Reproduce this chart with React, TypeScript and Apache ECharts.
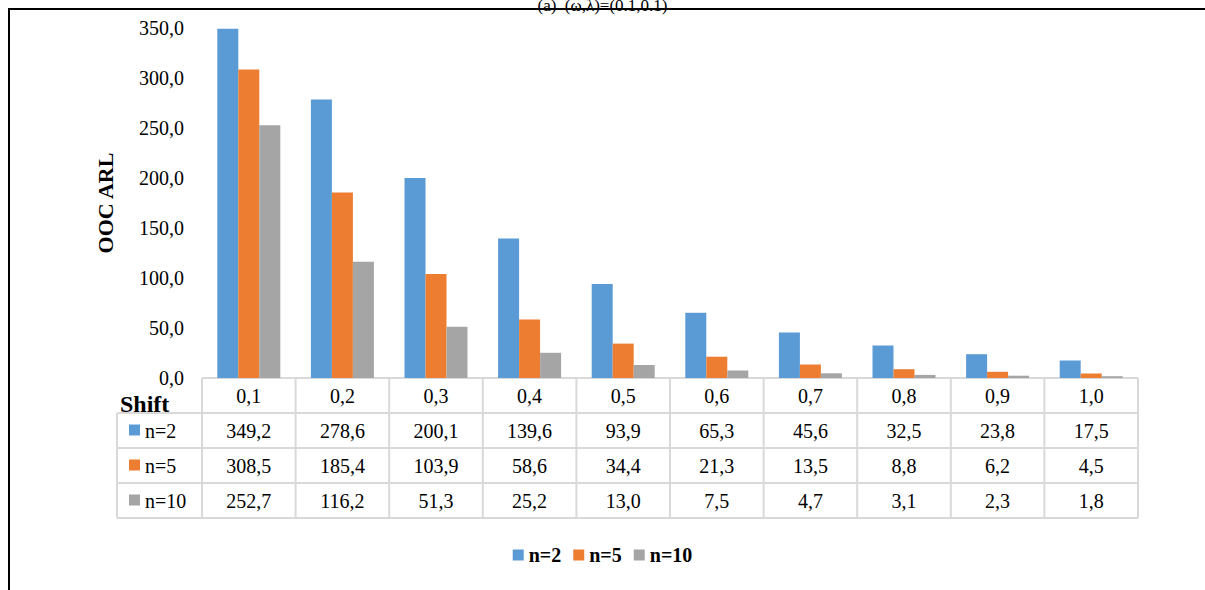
import { useEffect, useRef } from 'react';
import * as echarts from 'echarts';

const shifts = ['0,1', '0,2', '0,3', '0,4', '0,5', '0,6', '0,7', '0,8', '0,9', '1,0'];
const n2 = [349.2, 278.6, 200.1, 139.6, 93.9, 65.3, 45.6, 32.5, 23.8, 17.5];
const n5 = [308.5, 185.4, 103.9, 58.6, 34.4, 21.3, 13.5, 8.8, 6.2, 4.5];
const n10 = [252.7, 116.2, 51.3, 25.2, 13.0, 7.5, 4.7, 3.1, 2.3, 1.8];
const seriesNames = ['n=2', 'n=5', 'n=10'];
const colors = ['#5b9bd5', '#ed7d31', '#a5a5a5'];

const FONT = 'Liberation Serif';
const fmt = (v: number) => v.toFixed(1).replace('.', ',');

export default function App() {
  const ref = useRef<HTMLDivElement>(null);

  useEffect(() => {
    if (!ref.current) return;
    const chart = echarts.init(ref.current, undefined, { renderer: 'svg' });

    const plotL = 202, plotR = 1138, axisY = 378;
    const tableL = 117, rowH = 35;
    const catW = (plotR - plotL) / shifts.length;
    const lineStyle = { stroke: '#d9d9d9', lineWidth: 2 };
    const txt = (size: number, bold = false) => ({ font: `${bold ? 'bold ' : ''}${size}px ${FONT}, serif`, fill: '#000' });
    const graphic: any[] = [];

    // frame
    graphic.push({ type: 'line', shape: { x1: 8, y1: 9, x2: 1205, y2: 9 }, style: { stroke: '#000', lineWidth: 2 } });
    graphic.push({ type: 'line', shape: { x1: 9, y1: 9, x2: 9, y2: 590 }, style: { stroke: '#000', lineWidth: 2 } });
    graphic.push({
      type: 'text', left: 'center', top: -3,
      style: { text: '(a)  (ω,λ)=(0.1,0.1)', ...txt(17) },
    });

    // table lines
    graphic.push({ type: 'line', shape: { x1: plotL, y1: axisY, x2: plotR, y2: axisY }, style: lineStyle });
    for (let r = 1; r <= 4; r++) {
      const y = axisY + r * rowH;
      graphic.push({ type: 'line', shape: { x1: tableL, y1: y, x2: plotR, y2: y }, style: lineStyle });
    }
    for (let c = 0; c <= shifts.length; c++) {
      const x = plotL + c * catW;
      graphic.push({ type: 'line', shape: { x1: x, y1: axisY, x2: x, y2: axisY + 4 * rowH }, style: lineStyle });
    }
    graphic.push({ type: 'line', shape: { x1: tableL, y1: axisY + rowH, x2: tableL, y2: axisY + 4 * rowH }, style: lineStyle });

    graphic.push({
      type: 'text', x: 120, y: axisY + 26, style: { text: 'Shift', ...txt(24, true), textVerticalAlign: 'middle' },
    });

    const rows = [n2, n5, n10];
    rows.forEach((vals, r) => {
      const cy = axisY + (r + 1) * rowH + rowH / 2;
      graphic.push({ type: 'rect', shape: { x: 129, y: cy - 6, width: 11, height: 11 }, style: { fill: colors[r] } });
      graphic.push({
        type: 'text', x: 145, y: cy,
        style: { text: seriesNames[r], ...txt(20), textVerticalAlign: 'middle' },
      });
      vals.forEach((v, c) => {
        graphic.push({
          type: 'text', x: plotL + (c + 0.5) * catW, y: cy,
          style: { text: fmt(v), ...txt(20), textAlign: 'center', textVerticalAlign: 'middle' },
        });
      });
    });

    chart.setOption({
      animation: false,
      textStyle: { fontFamily: FONT },
      grid: { left: plotL, right: 1205 - plotR, top: 28, bottom: 590 - axisY },
      legend: {
        bottom: 20, left: 'center', itemWidth: 11, itemHeight: 11, itemGap: 12,
        icon: 'rect',
        textStyle: { fontFamily: FONT, fontSize: 20, fontWeight: 'bold', color: '#000' },
        data: seriesNames,
      },
      xAxis: {
        type: 'category', data: shifts,
        axisLine: { show: false }, axisTick: { show: false },
        axisLabel: { color: '#000', fontSize: 20, fontFamily: FONT, margin: 8, verticalAlign: 'top' },
      },
      yAxis: {
        type: 'value', min: 0, max: 350, interval: 50,
        name: 'OOC ARL', nameLocation: 'middle', nameGap: 86, nameRotate: 90,
        nameTextStyle: { color: '#000', fontSize: 22, fontWeight: 'bold', fontFamily: FONT },
        axisLine: { show: false }, axisTick: { show: false }, splitLine: { show: false },
        axisLabel: { color: '#000', fontSize: 20, fontFamily: FONT, formatter: (v: number) => fmt(v), margin: 18 },
      },
      series: rows.map((d, i) => ({
        name: seriesNames[i], type: 'bar', data: d, barWidth: 21, barGap: '0%',
        itemStyle: { color: colors[i] },
      })),
      graphic,
    });

    return () => chart.dispose();
  }, []);

  return <div ref={ref} style={{ position: 'absolute', left: 0, top: 0, width: 1205, height: 590, background: '#fff' }} />;
}
